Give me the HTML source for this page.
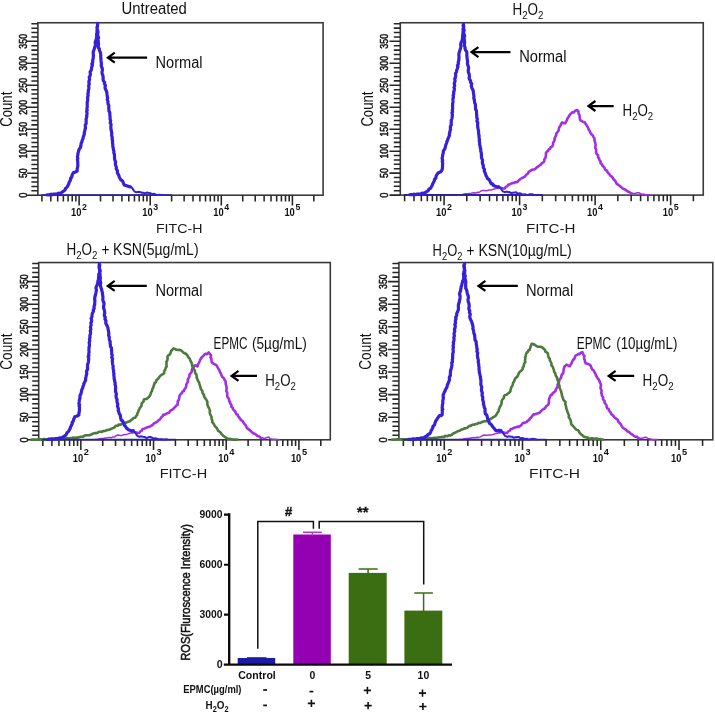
<!DOCTYPE html>
<html><head><meta charset="utf-8"><title>ROS flow cytometry</title>
<style>html,body{margin:0;padding:0;background:#fff;}body{width:715px;height:713px;overflow:hidden;font-family:"Liberation Sans",sans-serif;}svg{display:block;filter:blur(0.3px);}</style></head>
<body>
<svg width="715" height="713" viewBox="0 0 715 713" font-family="'Liberation Sans', sans-serif" fill="#111">
<rect width="715" height="713" fill="#fff"/>
<g id="panel1">
<rect x="37.90" y="22.75" width="285.20" height="172.45" fill="none" stroke="#3a3a3a" stroke-width="1.6"/>
<path d="M27.1,195.20H37.9M31.4,190.80H37.9M31.4,186.41H37.9M31.4,182.01H37.9M31.4,177.62H37.9M27.1,173.22H37.9M31.4,168.82H37.9M31.4,164.43H37.9M31.4,160.03H37.9M31.4,155.63H37.9M27.1,151.24H37.9M31.4,146.84H37.9M31.4,142.45H37.9M31.4,138.05H37.9M31.4,133.65H37.9M27.1,129.26H37.9M31.4,124.86H37.9M31.4,120.47H37.9M31.4,116.07H37.9M31.4,111.67H37.9M27.1,107.28H37.9M31.4,102.88H37.9M31.4,98.48H37.9M31.4,94.09H37.9M31.4,89.69H37.9M27.1,85.30H37.9M31.4,80.90H37.9M31.4,76.50H37.9M31.4,72.11H37.9M31.4,67.71H37.9M27.1,63.32H37.9M31.4,58.92H37.9M31.4,54.52H37.9M31.4,50.13H37.9M31.4,45.73H37.9M27.1,41.33H37.9M31.4,36.94H37.9M31.4,32.54H37.9M31.4,28.15H37.9M31.4,23.75H37.9" stroke="#262626" stroke-width="1.55" fill="none"/>
<text transform="translate(27.1,195.2) rotate(-90)" font-size="11" text-anchor="middle" textLength="5.2" lengthAdjust="spacingAndGlyphs" fill="#111" stroke="#111" stroke-width="0.5">0</text>
<text transform="translate(27.1,173.2) rotate(-90)" font-size="11" text-anchor="middle" textLength="9.8" lengthAdjust="spacingAndGlyphs" fill="#111" stroke="#111" stroke-width="0.5">50</text>
<text transform="translate(27.1,151.2) rotate(-90)" font-size="11" text-anchor="middle" textLength="14.8" lengthAdjust="spacingAndGlyphs" fill="#111" stroke="#111" stroke-width="0.5">100</text>
<text transform="translate(27.1,129.3) rotate(-90)" font-size="11" text-anchor="middle" textLength="14.8" lengthAdjust="spacingAndGlyphs" fill="#111" stroke="#111" stroke-width="0.5">150</text>
<text transform="translate(27.1,107.3) rotate(-90)" font-size="11" text-anchor="middle" textLength="14.8" lengthAdjust="spacingAndGlyphs" fill="#111" stroke="#111" stroke-width="0.5">200</text>
<text transform="translate(27.1,85.3) rotate(-90)" font-size="11" text-anchor="middle" textLength="14.8" lengthAdjust="spacingAndGlyphs" fill="#111" stroke="#111" stroke-width="0.5">250</text>
<text transform="translate(27.1,63.3) rotate(-90)" font-size="11" text-anchor="middle" textLength="14.8" lengthAdjust="spacingAndGlyphs" fill="#111" stroke="#111" stroke-width="0.5">300</text>
<text transform="translate(27.1,41.3) rotate(-90)" font-size="11" text-anchor="middle" textLength="14.8" lengthAdjust="spacingAndGlyphs" fill="#111" stroke="#111" stroke-width="0.5">350</text>
<text transform="translate(11.9,109.2) rotate(-90)" font-size="16.2" text-anchor="middle" textLength="35" lengthAdjust="spacingAndGlyphs">Count</text>
<path d="M41.93,195.2v6.2M50.82,195.2v6.2M57.71,195.2v6.2M63.34,195.2v6.2M68.10,195.2v6.2M72.22,195.2v6.2M75.86,195.2v6.2M79.11,195.2v10.2M100.51,195.2v6.2M113.03,195.2v6.2M121.92,195.2v6.2M128.81,195.2v6.2M134.44,195.2v6.2M139.20,195.2v6.2M143.32,195.2v6.2M146.96,195.2v6.2M150.21,195.2v10.2M171.62,195.2v6.2M184.14,195.2v6.2M193.02,195.2v6.2M199.91,195.2v6.2M205.54,195.2v6.2M210.30,195.2v6.2M214.42,195.2v6.2M218.06,195.2v6.2M221.31,195.2v10.2M242.72,195.2v6.2M255.24,195.2v6.2M264.12,195.2v6.2M271.01,195.2v6.2M276.64,195.2v6.2M281.40,195.2v6.2M285.52,195.2v6.2M289.16,195.2v6.2M292.41,195.2v10.2M313.82,195.2v6.2" stroke="#262626" stroke-width="1.55" fill="none"/>
<text x="71.1" y="216.3" font-size="10.6" font-weight="bold" fill="#111" textLength="10.4" lengthAdjust="spacingAndGlyphs">10</text>
<text x="82.1" y="210.1" font-size="8.8" font-weight="bold" fill="#111">2</text>
<text x="142.2" y="216.3" font-size="10.6" font-weight="bold" fill="#111" textLength="10.4" lengthAdjust="spacingAndGlyphs">10</text>
<text x="153.2" y="210.1" font-size="8.8" font-weight="bold" fill="#111">3</text>
<text x="213.3" y="216.3" font-size="10.6" font-weight="bold" fill="#111" textLength="10.4" lengthAdjust="spacingAndGlyphs">10</text>
<text x="224.3" y="210.1" font-size="8.8" font-weight="bold" fill="#111">4</text>
<text x="284.4" y="216.3" font-size="10.6" font-weight="bold" fill="#111" textLength="10.4" lengthAdjust="spacingAndGlyphs">10</text>
<text x="295.4" y="210.1" font-size="8.8" font-weight="bold" fill="#111">5</text>
<path d="M41.3,195.05H171.9" stroke="#2a2496" stroke-width="1.7" fill="none"/>
<polyline points="130.4,186.6 132.1,187.9 133.2,189.6 134.1,191.1 134.4,191.4 136.3,192.3 138.3,191.8 139.8,191.9 141.8,192.7 143.2,192.8 145.0,193.4 147.1,192.5 149.2,193.1 150.7,193.3 151.8,194.3 153.8,193.8 156.4,194.7 157.6,195.0 159.6,194.8 160.9,195.0 163.0,195.0" fill="none" stroke="#3620da" stroke-width="2.0" stroke-linejoin="round" stroke-linecap="round"/>
<polyline points="46.9,194.8 48.0,194.8 49.4,194.8 51.0,194.2 52.0,194.8 53.7,194.1 55.9,194.2 57.3,193.8 58.6,193.2 60.0,193.5 61.6,192.6 63.4,191.2 64.8,190.2 65.7,188.3 67.1,187.1 67.8,185.8 68.6,184.3 69.0,182.8 69.7,181.5 70.7,179.3 70.6,178.1 71.8,177.0 72.0,175.5 72.6,174.1 73.3,172.8 74.6,172.4 75.9,171.7 77.2,171.1 77.2,168.5 77.6,167.4 77.9,165.2 77.7,163.2 77.8,161.7 77.4,159.5 77.9,158.6 77.4,156.8 77.9,154.6 77.9,153.5 78.6,151.3 79.0,149.6 79.8,148.3 80.6,147.2 80.9,145.6 81.2,143.2 82.0,141.5 82.2,140.3 83.1,138.4 83.1,137.5 83.6,136.1 84.4,134.0 84.2,132.7 84.7,131.2 84.9,129.8 85.5,128.1 85.3,126.8 85.3,124.9 86.2,123.6 86.1,121.6 86.2,120.5 86.1,119.0 86.7,117.1 86.8,116.0 86.9,114.4 87.1,113.3 86.6,111.2 87.2,110.5 86.9,108.5 87.3,106.8 87.2,105.3 87.2,103.9 87.2,102.2 87.7,100.3 87.7,99.3 87.6,97.2 88.2,95.5 87.8,94.0 88.4,92.1 88.2,90.6 88.8,89.1 88.9,87.1 88.6,85.9 89.3,84.0 88.8,82.1 89.2,80.5 89.6,79.4 89.2,77.2 90.1,75.8 90.4,73.7 90.1,71.9 91.3,70.1 91.5,68.5 91.8,66.8 92.5,64.9 91.8,63.9 92.8,62.3 92.6,60.6 93.2,58.3 93.3,57.1 93.4,55.2 93.2,53.3 93.3,51.4 93.9,50.2 94.3,48.6 94.6,47.7 95.1,46.2 95.5,44.2 95.1,42.7 95.7,40.6 96.5,39.1 96.5,37.8 96.8,35.6 96.6,34.3 97.0,32.6 97.0,30.4 97.2,29.2 96.9,27.5 97.6,25.8 97.6,23.4 97.5,25.9 97.1,27.0 97.4,29.0 97.7,30.6 98.1,31.9 97.6,33.7 97.7,35.3 98.6,37.7 97.9,39.1 98.2,40.6 98.3,42.6 98.6,44.0 98.3,45.7 98.3,47.6 99.4,48.9 99.3,50.1 100.1,51.9 100.6,53.3 100.8,55.2 100.7,56.7 100.9,58.7 101.0,60.4 101.2,61.6 101.4,63.7 101.2,65.2 101.7,67.3 102.3,68.5 102.4,70.4 102.0,71.7 102.1,73.6 102.8,75.3 103.1,76.7 103.2,78.2 103.1,79.7 103.4,80.8 104.6,82.2 104.4,83.7 105.4,85.4 105.0,87.5 105.4,89.1 106.2,90.6 106.7,91.9 106.9,93.0 107.1,95.0 107.3,96.2 107.6,98.5 107.2,99.5 108.0,101.5 107.9,102.5 108.2,104.5 108.9,105.8 108.7,107.5 108.9,109.2 108.9,110.9 109.8,112.5 109.8,114.0 110.0,116.2 110.1,117.6 110.1,119.4 110.7,120.7 110.2,122.9 111.1,124.3 110.9,126.2 110.8,127.5 111.0,129.4 111.3,130.8 111.8,133.1 111.6,134.6 111.9,136.4 112.3,137.6 112.1,139.0 112.6,141.0 112.5,142.7 112.8,144.7 112.8,146.5 113.2,147.8 113.4,149.7 113.9,151.1 113.8,152.9 114.4,154.2 114.5,156.3 114.5,157.2 114.6,159.3 115.2,161.1 115.7,162.0 115.3,163.5 115.6,165.4 116.4,167.1 116.2,168.6 116.7,169.7 117.5,170.9 117.4,173.0 118.1,174.1 119.0,175.8 119.2,177.0 120.2,178.7 120.9,179.9 122.4,180.9 122.9,181.8 123.5,183.5 124.3,184.9 125.8,185.4 127.5,186.0 128.9,186.6 130.2,186.8" fill="none" stroke="#3620da" stroke-width="3.2" stroke-linejoin="round" stroke-linecap="round"/>
</g>
<g id="panel2">
<rect x="400.30" y="22.75" width="302.95" height="172.35" fill="none" stroke="#3a3a3a" stroke-width="1.6"/>
<path d="M389.5,195.10H400.3M393.8,190.71H400.3M393.8,186.31H400.3M393.8,181.92H400.3M393.8,177.53H400.3M389.5,173.13H400.3M393.8,168.74H400.3M393.8,164.34H400.3M393.8,159.95H400.3M393.8,155.56H400.3M389.5,151.16H400.3M393.8,146.77H400.3M393.8,142.38H400.3M393.8,137.98H400.3M393.8,133.59H400.3M389.5,129.20H400.3M393.8,124.80H400.3M393.8,120.41H400.3M393.8,116.02H400.3M393.8,111.62H400.3M389.5,107.23H400.3M393.8,102.83H400.3M393.8,98.44H400.3M393.8,94.05H400.3M393.8,89.65H400.3M389.5,85.26H400.3M393.8,80.87H400.3M393.8,76.47H400.3M393.8,72.08H400.3M393.8,67.69H400.3M389.5,63.29H400.3M393.8,58.90H400.3M393.8,54.51H400.3M393.8,50.11H400.3M393.8,45.72H400.3M389.5,41.32H400.3M393.8,36.93H400.3M393.8,32.54H400.3M393.8,28.14H400.3M393.8,23.75H400.3" stroke="#262626" stroke-width="1.55" fill="none"/>
<text transform="translate(388.3,195.1) rotate(-90)" font-size="11" text-anchor="middle" textLength="5.2" lengthAdjust="spacingAndGlyphs" fill="#111" stroke="#111" stroke-width="0.5">0</text>
<text transform="translate(388.3,173.1) rotate(-90)" font-size="11" text-anchor="middle" textLength="9.8" lengthAdjust="spacingAndGlyphs" fill="#111" stroke="#111" stroke-width="0.5">50</text>
<text transform="translate(388.3,151.2) rotate(-90)" font-size="11" text-anchor="middle" textLength="14.8" lengthAdjust="spacingAndGlyphs" fill="#111" stroke="#111" stroke-width="0.5">100</text>
<text transform="translate(388.3,129.2) rotate(-90)" font-size="11" text-anchor="middle" textLength="14.8" lengthAdjust="spacingAndGlyphs" fill="#111" stroke="#111" stroke-width="0.5">150</text>
<text transform="translate(388.3,107.2) rotate(-90)" font-size="11" text-anchor="middle" textLength="14.8" lengthAdjust="spacingAndGlyphs" fill="#111" stroke="#111" stroke-width="0.5">200</text>
<text transform="translate(388.3,85.3) rotate(-90)" font-size="11" text-anchor="middle" textLength="14.8" lengthAdjust="spacingAndGlyphs" fill="#111" stroke="#111" stroke-width="0.5">250</text>
<text transform="translate(388.3,63.3) rotate(-90)" font-size="11" text-anchor="middle" textLength="14.8" lengthAdjust="spacingAndGlyphs" fill="#111" stroke="#111" stroke-width="0.5">300</text>
<text transform="translate(388.3,41.3) rotate(-90)" font-size="11" text-anchor="middle" textLength="14.8" lengthAdjust="spacingAndGlyphs" fill="#111" stroke="#111" stroke-width="0.5">350</text>
<text transform="translate(373.4,109.1) rotate(-90)" font-size="16.2" text-anchor="middle" textLength="35" lengthAdjust="spacingAndGlyphs">Count</text>
<path d="M404.59,195.1v6.2M414.02,195.1v6.2M421.34,195.1v6.2M427.32,195.1v6.2M432.38,195.1v6.2M436.76,195.1v6.2M440.62,195.1v6.2M444.08,195.1v10.2M466.81,195.1v6.2M480.11,195.1v6.2M489.55,195.1v6.2M496.87,195.1v6.2M502.85,195.1v6.2M507.90,195.1v6.2M512.28,195.1v6.2M516.15,195.1v6.2M519.60,195.1v10.2M542.34,195.1v6.2M555.64,195.1v6.2M565.07,195.1v6.2M572.39,195.1v6.2M578.37,195.1v6.2M583.43,195.1v6.2M587.81,195.1v6.2M591.67,195.1v6.2M595.13,195.1v10.2M617.86,195.1v6.2M631.16,195.1v6.2M640.60,195.1v6.2M647.92,195.1v6.2M653.90,195.1v6.2M658.95,195.1v6.2M663.33,195.1v6.2M667.20,195.1v6.2M670.65,195.1v10.2M693.39,195.1v6.2" stroke="#262626" stroke-width="1.55" fill="none"/>
<text x="436.1" y="216.2" font-size="10.6" font-weight="bold" fill="#111" textLength="10.4" lengthAdjust="spacingAndGlyphs">10</text>
<text x="447.1" y="210.0" font-size="8.8" font-weight="bold" fill="#111">2</text>
<text x="511.6" y="216.2" font-size="10.6" font-weight="bold" fill="#111" textLength="10.4" lengthAdjust="spacingAndGlyphs">10</text>
<text x="522.6" y="210.0" font-size="8.8" font-weight="bold" fill="#111">3</text>
<text x="587.1" y="216.2" font-size="10.6" font-weight="bold" fill="#111" textLength="10.4" lengthAdjust="spacingAndGlyphs">10</text>
<text x="598.1" y="210.0" font-size="8.8" font-weight="bold" fill="#111">4</text>
<text x="662.7" y="216.2" font-size="10.6" font-weight="bold" fill="#111" textLength="10.4" lengthAdjust="spacingAndGlyphs">10</text>
<text x="673.7" y="210.0" font-size="8.8" font-weight="bold" fill="#111">5</text>
<polyline points="458.9,194.9 460.4,194.9 462.0,194.6 463.6,194.1 466.0,193.8 467.6,193.7 469.3,193.4 470.8,193.4 472.3,192.9 473.9,192.8 475.8,193.0 477.4,192.3 479.0,192.5 480.5,191.3 482.3,190.4 484.0,190.6 485.8,190.8 487.6,190.6 488.6,190.1 490.6,190.0 491.6,189.9 493.4,189.3 495.1,188.7 496.1,188.6 497.3,188.1" fill="none" stroke="#a22fe6" stroke-width="1.5" stroke-linejoin="round" stroke-linecap="round"/>
<polyline points="631.2,193.2 632.5,193.2 633.7,193.6 634.9,193.5 637.3,192.8 638.9,192.7 639.8,193.3 641.3,194.1 643.6,194.4 644.9,194.4 646.6,194.9 648.2,194.9 649.6,194.9" fill="none" stroke="#a22fe6" stroke-width="1.6" stroke-linejoin="round" stroke-linecap="round"/>
<polyline points="497.5,187.9 498.9,187.7 500.7,187.8 502.2,188.2 503.2,188.5 504.8,188.5 505.8,186.9 507.2,186.4 508.2,184.7 509.9,184.3 511.2,183.5 513.0,182.9 514.2,182.9 515.3,182.1 517.3,182.1 518.6,180.5 520.4,179.0 522.0,178.0 523.2,177.5 524.8,176.7 525.5,175.7 526.7,174.4 528.1,173.5 528.5,172.1 529.8,171.1 531.5,170.1 533.3,169.5 534.3,169.5 535.6,168.6 536.5,167.6 538.3,166.4 540.2,165.0 541.1,164.2 542.1,162.9 543.5,162.3 544.3,160.9 544.3,159.3 545.3,158.1 545.9,155.8 545.9,154.6 546.0,152.8 547.1,151.4 547.9,151.0 548.9,149.3 550.1,148.8 550.7,147.2 552.1,146.5 553.0,144.9 553.0,143.0 553.6,142.0 554.8,139.7 554.6,138.3 555.2,137.1 556.2,135.2 556.3,133.8 557.3,132.3 558.5,130.8 558.7,129.1 559.5,126.9 560.3,126.1 560.9,124.5 562.1,122.4 563.5,123.2 565.1,123.2 566.0,121.8 566.9,120.2 567.3,118.7 568.1,117.5 568.8,116.5 570.2,114.3 570.9,113.6 572.2,112.4 573.8,112.4 574.7,111.4 575.6,110.5 577.2,110.1 578.5,111.5 578.6,113.7 579.4,114.7 579.6,116.3 579.9,119.0 580.5,120.5 581.4,120.7 582.8,121.7 584.7,122.3 585.3,123.2 586.7,125.5 587.6,126.9 588.4,128.3 588.6,129.6 589.6,130.6 590.1,132.3 591.2,134.1 592.7,135.2 593.5,137.1 594.4,137.9 594.5,139.1 594.6,140.7 595.2,143.0 595.6,144.2 595.5,146.1 595.1,147.5 596.1,149.3 596.1,150.6 596.1,152.5 596.9,154.1 598.1,155.4 598.1,157.5 599.1,158.2 599.1,159.5 600.6,161.6 600.4,163.0 601.9,164.2 602.2,165.3 602.9,166.0 604.6,167.8 605.0,169.3 605.8,170.3 607.1,170.8 607.5,172.0 608.5,173.4 609.5,174.3 610.4,175.8 611.6,176.4 612.8,177.9 613.4,179.1 614.3,180.0 615.1,180.7 615.9,182.1 616.7,183.9 618.1,184.7 619.9,186.0 620.8,186.8 622.3,188.0 623.1,188.7 624.5,189.2 626.3,190.3 627.4,191.4 629.0,191.7 630.0,192.5 631.2,193.4" fill="none" stroke="#a22fe6" stroke-width="2.6" stroke-linejoin="round" stroke-linecap="round"/>
<path d="M403.9,194.95H542.7" stroke="#2a2496" stroke-width="1.7" fill="none"/>
<polyline points="498.5,186.5 500.3,187.8 501.5,189.5 502.5,191.0 502.8,191.3 504.8,192.2 506.2,191.7 507.2,191.8 508.7,192.2 509.5,192.1 511.1,193.1 512.9,192.7 514.6,192.5 516.2,192.3 517.7,193.8 519.7,193.3 522.3,194.2 523.5,194.5 525.1,194.3 526.1,194.7 527.9,194.9 529.9,194.3 531.1,194.3 532.7,194.3" fill="none" stroke="#3620da" stroke-width="2.0" stroke-linejoin="round" stroke-linecap="round"/>
<polyline points="409.9,194.7 411.0,194.7 412.6,194.7 414.2,194.1 415.3,194.7 417.1,194.0 419.4,194.1 420.8,193.7 422.2,193.1 423.8,193.4 425.5,192.5 427.4,191.1 428.4,190.6 428.9,189.1 430.4,188.6 431.1,187.3 432.0,185.8 432.6,184.1 433.3,182.8 434.4,180.6 434.5,179.3 435.8,178.2 436.0,176.7 436.4,175.5 437.1,174.2 438.1,173.0 439.4,172.3 440.8,171.7 441.9,170.3 442.2,169.2 442.5,167.0 442.5,164.8 442.7,163.4 442.2,161.2 442.7,160.3 442.1,158.4 442.6,156.1 442.6,155.1 443.3,152.8 443.3,151.2 444.1,149.8 444.9,148.8 445.3,147.2 445.8,144.7 446.6,143.1 446.8,141.8 447.7,140.0 447.8,139.0 448.6,137.5 449.4,135.5 449.3,134.1 449.7,132.7 449.9,131.2 450.5,129.6 450.4,128.3 450.4,126.4 451.3,125.0 451.2,123.0 451.3,122.0 451.2,120.5 452.0,118.5 452.1,117.4 452.3,115.8 452.4,114.7 451.9,112.6 452.6,112.0 452.3,110.0 452.7,108.3 452.6,106.8 452.6,105.5 452.6,103.7 453.1,101.8 453.0,100.9 452.9,98.8 453.5,97.1 453.1,95.6 453.8,93.7 453.6,92.2 454.2,90.7 454.4,88.8 454.0,87.5 454.7,85.7 454.2,83.7 454.7,82.1 455.1,81.0 454.7,78.8 455.4,77.5 455.7,75.5 455.5,73.6 456.4,71.9 456.7,70.2 457.4,68.5 458.0,66.6 457.4,65.6 458.4,64.0 458.2,62.2 458.9,59.9 458.9,58.8 459.0,56.8 458.9,55.0 459.0,53.1 459.5,51.6 460.0,49.9 460.3,49.1 460.6,47.9 461.0,45.9 460.6,44.4 461.2,42.3 462.1,40.8 462.3,39.4 462.7,37.2 462.5,36.0 462.9,34.3 463.0,32.1 463.3,30.9 463.0,29.2 463.7,27.5 463.6,25.1 463.5,24.2 463.1,25.3 463.4,27.3 463.7,28.9 464.2,30.2 463.6,32.0 463.8,33.6 464.7,36.0 464.0,37.4 464.3,38.9 464.4,40.9 464.7,42.3 464.4,44.0 464.4,45.9 465.1,47.4 465.0,48.7 465.8,50.5 466.7,51.7 466.9,53.5 466.8,55.0 467.0,57.0 467.1,58.7 467.4,59.9 467.6,62.0 467.4,63.5 467.9,65.5 468.5,66.8 468.6,68.8 468.2,70.1 468.3,72.0 469.0,73.7 469.3,75.0 469.4,76.5 469.1,78.1 469.5,79.2 470.6,80.7 470.5,82.2 471.7,83.8 471.3,85.9 471.7,87.5 472.5,89.0 473.1,90.3 473.3,91.4 473.5,93.4 473.7,94.6 474.0,96.9 473.7,97.9 474.4,99.9 474.4,100.9 474.7,102.9 475.4,104.2 475.4,105.8 475.5,107.5 475.5,109.2 476.5,110.8 476.5,112.3 476.6,114.5 476.8,115.9 476.8,117.7 477.4,118.9 476.9,121.1 477.8,122.6 477.6,124.5 477.6,125.7 477.8,127.7 478.1,129.0 478.6,131.4 478.5,132.8 478.8,134.7 479.1,135.8 479.0,137.3 479.4,139.3 479.3,141.0 479.6,143.0 479.7,144.8 480.1,146.1 480.3,148.0 480.8,149.4 480.7,151.1 481.2,152.5 481.4,154.6 481.4,155.5 481.5,157.6 482.2,159.4 482.6,160.4 482.3,161.9 482.5,163.8 483.4,165.5 483.2,167.0 483.5,168.1 484.4,169.3 484.3,171.4 485.0,172.5 485.7,174.3 485.9,175.4 487.0,177.1 487.5,178.7 489.1,179.7 489.7,180.6 490.4,182.2 491.1,183.6 492.8,184.1 493.7,185.6 495.3,186.2 496.5,186.5 498.7,186.8" fill="none" stroke="#3620da" stroke-width="3.2" stroke-linejoin="round" stroke-linecap="round"/>
</g>
<g id="panel3">
<rect x="38.70" y="262.55" width="291.60" height="177.25" fill="none" stroke="#3a3a3a" stroke-width="1.6"/>
<path d="M27.9,439.80H38.7M32.2,435.28H38.7M32.2,430.76H38.7M32.2,426.24H38.7M32.2,421.72H38.7M27.9,417.20H38.7M32.2,412.68H38.7M32.2,408.17H38.7M32.2,403.65H38.7M32.2,399.13H38.7M27.9,394.61H38.7M32.2,390.09H38.7M32.2,385.57H38.7M32.2,381.05H38.7M32.2,376.53H38.7M27.9,372.01H38.7M32.2,367.49H38.7M32.2,362.97H38.7M32.2,358.45H38.7M32.2,353.93H38.7M27.9,349.42H38.7M32.2,344.90H38.7M32.2,340.38H38.7M32.2,335.86H38.7M32.2,331.34H38.7M27.9,326.82H38.7M32.2,322.30H38.7M32.2,317.78H38.7M32.2,313.26H38.7M32.2,308.74H38.7M27.9,304.22H38.7M32.2,299.70H38.7M32.2,295.18H38.7M32.2,290.67H38.7M32.2,286.15H38.7M27.9,281.63H38.7M32.2,277.11H38.7M32.2,272.59H38.7M32.2,268.07H38.7M32.2,263.55H38.7" stroke="#262626" stroke-width="1.55" fill="none"/>
<text transform="translate(27.9,439.8) rotate(-90)" font-size="11" text-anchor="middle" textLength="5.2" lengthAdjust="spacingAndGlyphs" fill="#111" stroke="#111" stroke-width="0.5">0</text>
<text transform="translate(27.9,417.2) rotate(-90)" font-size="11" text-anchor="middle" textLength="9.8" lengthAdjust="spacingAndGlyphs" fill="#111" stroke="#111" stroke-width="0.5">50</text>
<text transform="translate(27.9,394.6) rotate(-90)" font-size="11" text-anchor="middle" textLength="14.8" lengthAdjust="spacingAndGlyphs" fill="#111" stroke="#111" stroke-width="0.5">100</text>
<text transform="translate(27.9,372.0) rotate(-90)" font-size="11" text-anchor="middle" textLength="14.8" lengthAdjust="spacingAndGlyphs" fill="#111" stroke="#111" stroke-width="0.5">150</text>
<text transform="translate(27.9,349.4) rotate(-90)" font-size="11" text-anchor="middle" textLength="14.8" lengthAdjust="spacingAndGlyphs" fill="#111" stroke="#111" stroke-width="0.5">200</text>
<text transform="translate(27.9,326.8) rotate(-90)" font-size="11" text-anchor="middle" textLength="14.8" lengthAdjust="spacingAndGlyphs" fill="#111" stroke="#111" stroke-width="0.5">250</text>
<text transform="translate(27.9,304.2) rotate(-90)" font-size="11" text-anchor="middle" textLength="14.8" lengthAdjust="spacingAndGlyphs" fill="#111" stroke="#111" stroke-width="0.5">300</text>
<text transform="translate(27.9,281.6) rotate(-90)" font-size="11" text-anchor="middle" textLength="14.8" lengthAdjust="spacingAndGlyphs" fill="#111" stroke="#111" stroke-width="0.5">350</text>
<text transform="translate(12.2,351.6) rotate(-90)" font-size="16.2" text-anchor="middle" textLength="36.3" lengthAdjust="spacingAndGlyphs">Count</text>
<path d="M42.83,439.8v6.2M51.91,439.8v6.2M58.95,439.8v6.2M64.71,439.8v6.2M69.58,439.8v6.2M73.79,439.8v6.2M77.51,439.8v6.2M80.84,439.8v10.2M102.72,439.8v6.2M115.52,439.8v6.2M124.60,439.8v6.2M131.65,439.8v6.2M137.40,439.8v6.2M142.27,439.8v6.2M146.49,439.8v6.2M150.21,439.8v6.2M153.53,439.8v10.2M175.42,439.8v6.2M188.22,439.8v6.2M197.30,439.8v6.2M204.34,439.8v6.2M210.10,439.8v6.2M214.97,439.8v6.2M219.18,439.8v6.2M222.90,439.8v6.2M226.23,439.8v10.2M248.11,439.8v6.2M260.91,439.8v6.2M270.00,439.8v6.2M277.04,439.8v6.2M282.80,439.8v6.2M287.66,439.8v6.2M291.88,439.8v6.2M295.60,439.8v6.2M298.92,439.8v10.2M320.81,439.8v6.2" stroke="#262626" stroke-width="1.55" fill="none"/>
<text x="72.8" y="461.8" font-size="11.2" font-weight="bold" fill="#111" textLength="10.4" lengthAdjust="spacingAndGlyphs">10</text>
<text x="83.8" y="455.1" font-size="9.2" font-weight="bold" fill="#111">2</text>
<text x="145.5" y="461.8" font-size="11.2" font-weight="bold" fill="#111" textLength="10.4" lengthAdjust="spacingAndGlyphs">10</text>
<text x="156.5" y="455.1" font-size="9.2" font-weight="bold" fill="#111">3</text>
<text x="218.2" y="461.8" font-size="11.2" font-weight="bold" fill="#111" textLength="10.4" lengthAdjust="spacingAndGlyphs">10</text>
<text x="229.2" y="455.1" font-size="9.2" font-weight="bold" fill="#111">4</text>
<text x="290.9" y="461.8" font-size="11.2" font-weight="bold" fill="#111" textLength="10.4" lengthAdjust="spacingAndGlyphs">10</text>
<text x="301.9" y="455.1" font-size="9.2" font-weight="bold" fill="#111">5</text>
<polyline points="95.1,439.6 96.5,439.6 98.0,439.3 99.6,438.8 101.9,438.5 103.5,438.3 105.1,438.0 106.5,438.1 108.0,437.6 109.6,437.4 111.4,437.7 112.9,436.9 114.4,437.1 115.9,435.9 117.6,435.0 119.2,435.2 121.0,435.4 122.7,435.2 123.7,434.7 125.6,434.5 126.6,434.4 128.3,433.9 129.9,433.2 130.9,433.1 132.1,432.6" fill="none" stroke="#a22fe6" stroke-width="1.5" stroke-linejoin="round" stroke-linecap="round"/>
<polyline points="261.0,437.8 262.9,437.9 264.6,438.4 266.3,437.7 268.6,437.0 269.5,438.1 270.3,438.7 272.9,439.3 274.4,439.2 275.6,439.2 277.3,439.6 278.8,439.6" fill="none" stroke="#a22fe6" stroke-width="1.6" stroke-linejoin="round" stroke-linecap="round"/>
<polyline points="132.3,432.4 133.6,432.2 135.4,432.3 136.8,432.7 137.8,433.0 139.2,433.0 140.3,431.4 141.6,430.9 142.5,429.1 144.2,428.7 146.1,427.8 148.4,427.0 150.1,426.6 151.2,425.7 152.7,425.0 153.9,423.4 155.9,422.5 157.4,421.6 158.0,420.6 159.6,419.7 160.3,418.8 161.4,417.2 162.7,416.2 163.1,414.8 164.8,414.7 166.5,413.7 168.2,412.8 169.2,412.8 169.9,411.3 170.8,410.3 173.2,409.1 174.4,407.7 175.3,406.8 176.3,405.5 177.6,404.9 177.7,403.0 177.7,401.4 178.7,400.1 179.3,397.8 179.3,396.6 179.8,395.2 180.9,393.7 181.7,393.3 182.6,391.5 183.8,391.0 184.4,389.3 185.4,388.2 186.2,386.7 186.2,384.7 186.8,383.6 188.0,381.3 187.7,379.9 188.4,378.4 189.4,376.6 189.4,375.0 190.4,373.5 191.6,372.0 191.8,370.3 192.5,368.1 193.4,367.1 194.9,365.4 196.0,365.6 197.4,366.5 198.0,364.3 198.9,362.9 199.7,361.2 200.1,359.8 201.0,358.5 201.6,357.5 203.3,355.8 204.0,355.0 205.2,353.8 207.0,354.2 207.8,353.2 208.7,352.3 209.8,353.9 211.1,355.3 210.5,357.5 211.2,358.2 211.4,359.5 211.6,361.9 212.2,363.0 213.0,363.3 214.4,364.3 216.2,364.9 216.8,365.9 218.1,368.2 219.0,369.6 219.8,371.1 220.0,372.4 220.9,373.5 221.4,375.2 222.4,377.0 223.9,378.2 224.7,380.2 225.5,381.0 225.6,382.2 225.7,383.9 226.3,386.2 226.6,387.4 226.6,389.4 226.2,390.9 227.2,392.7 227.2,394.0 227.2,396.0 227.9,397.7 229.1,398.9 229.1,401.2 230.1,401.8 230.1,403.2 231.5,405.3 231.3,406.8 232.8,408.1 233.0,409.2 233.7,409.9 235.4,411.8 235.8,413.2 236.5,414.3 237.7,414.8 238.1,416.0 239.1,417.5 240.0,418.4 240.9,420.0 242.1,420.6 243.2,422.1 243.9,423.4 244.7,424.2 245.5,425.0 246.2,426.4 247.0,428.2 248.4,429.1 250.1,430.4 250.9,431.3 252.4,432.5 253.2,433.2 254.5,433.7 256.3,434.8 257.3,435.9 258.9,436.3 259.8,437.1 261.0,438.0" fill="none" stroke="#a22fe6" stroke-width="2.6" stroke-linejoin="round" stroke-linecap="round"/>
<polyline points="31.3,439.6 32.9,439.6 35.0,439.6 36.1,439.6 37.4,439.6 39.5,439.6 40.6,439.3 42.2,439.6 44.4,439.0 46.3,439.6 47.5,439.5 48.6,438.8 50.6,438.9 51.9,439.0 53.3,439.2 55.4,439.5 57.0,439.3 58.6,439.3 60.2,438.9 62.4,439.4 63.8,439.0 64.9,438.4 66.5,438.1 68.7,438.3 70.4,438.1 72.1,438.4 72.8,437.6 75.3,437.8 77.0,437.5 77.8,437.6 80.0,436.9 80.8,436.7 83.1,436.8 83.8,435.9 85.3,435.4 87.4,435.2 88.7,435.2 89.8,435.1 91.3,434.5 92.8,433.8 94.4,433.1 96.7,433.1 97.6,432.7 99.0,431.7 101.1,431.8 101.8,431.9 103.4,431.0 105.4,430.9 106.5,430.1 107.9,430.0 109.7,429.5 111.4,428.7 113.5,427.9 114.6,427.3 115.7,425.7 117.8,425.8 118.5,424.6 120.3,424.7 121.4,424.3 123.8,423.4 125.0,422.5 126.3,422.7 128.2,421.7 129.9,421.2 131.5,419.8 132.3,419.4 133.4,418.0 135.2,417.8 136.0,416.1 137.2,415.0 137.1,413.9 138.2,412.0 138.5,410.7 139.5,408.8 139.9,407.8 141.2,406.3 141.6,405.0 141.7,403.2 142.2,402.8 143.7,401.3 143.8,399.5 145.7,399.0 146.9,398.7 148.0,397.7 149.3,396.7 150.0,395.2 150.7,394.1 150.9,392.5 152.1,391.0 152.2,389.3 153.3,387.4 153.7,385.5 154.3,384.5 154.4,383.2 155.9,382.2 156.3,380.4 157.3,379.5 158.1,378.8 158.8,377.6 159.8,376.4 161.4,374.9 162.9,374.1 164.0,373.4 164.4,370.8 165.2,369.8 165.8,367.6 166.7,366.5 166.4,365.2 166.5,363.4 166.5,361.6 167.3,360.5 167.6,358.4 167.5,356.8 168.0,355.6 169.7,354.5 170.5,353.2 171.2,351.0 172.4,349.7 173.3,348.5 175.1,349.0 176.2,349.8 178.3,349.9 178.7,349.9 180.9,350.3 182.2,351.2 183.2,352.6 184.3,353.0 186.1,354.0 187.6,355.6 188.0,356.8 189.7,358.6 190.3,360.3 191.1,362.1 191.6,362.8 192.0,364.3 192.2,366.0 193.5,367.2 193.7,368.8 194.7,370.4 195.1,372.1 195.3,373.5 196.3,374.2 196.8,376.2 196.5,377.4 197.4,379.2 197.7,380.3 198.7,381.9 199.3,383.0 199.5,384.1 200.1,386.1 200.5,387.4 200.8,389.1 202.2,390.7 202.4,392.1 202.9,393.7 204.0,394.7 204.0,396.3 205.1,398.1 205.7,398.9 206.7,400.4 207.4,402.0 207.3,404.1 207.5,405.0 208.3,407.0 209.1,408.4 209.6,409.7 210.0,410.8 209.7,412.7 210.2,414.4 210.9,415.7 211.6,417.3 211.5,418.7 212.4,420.7 212.2,422.2 213.4,423.4 214.1,424.6 215.0,426.3 216.1,427.3 217.5,429.3 218.0,430.7 219.1,431.4 220.3,432.1 221.2,433.5 222.6,435.1 223.1,435.6 224.3,436.5 226.2,437.9 227.1,438.3 228.2,439.0 230.3,438.9 231.6,439.2 232.6,439.5 234.7,439.6 235.9,439.6 237.3,439.6" fill="none" stroke="#4b7a3c" stroke-width="2.6" stroke-linejoin="round" stroke-linecap="round"/>
<path d="M42.2,439.65H175.8" stroke="#2a2496" stroke-width="1.7" fill="none"/>
<polyline points="133.2,431.0 135.0,432.3 136.1,434.1 137.1,435.6 137.4,435.9 139.3,436.9 140.6,436.3 141.6,436.5 143.0,436.8 144.4,436.9 146.6,438.1 148.7,437.1 150.4,437.0 152.3,437.7 153.4,438.6 155.4,438.2 157.9,439.0 159.2,439.3 161.4,439.3 162.8,439.6 164.9,439.6 166.9,439.2" fill="none" stroke="#3620da" stroke-width="2.0" stroke-linejoin="round" stroke-linecap="round"/>
<polyline points="47.9,439.4 49.0,439.4 50.5,439.3 52.1,438.8 53.1,439.3 54.9,438.7 57.1,438.7 58.5,438.4 59.8,437.8 61.3,438.1 62.9,437.1 64.8,435.7 66.2,434.7 67.1,432.7 68.5,431.4 69.2,430.2 70.1,428.6 70.5,427.0 71.2,425.7 72.3,423.5 72.1,422.2 73.4,421.1 73.6,419.6 74.2,418.1 74.8,416.7 76.3,416.3 77.5,415.7 78.9,415.0 78.9,412.9 79.2,412.2 79.4,410.4 79.4,408.7 79.5,407.6 79.0,405.7 79.6,405.1 78.9,403.4 79.2,401.4 79.3,400.3 80.0,398.0 79.9,396.3 80.2,394.9 81.0,393.8 81.3,392.2 81.8,389.7 82.7,387.9 82.9,386.6 83.8,384.8 83.8,383.8 84.6,382.2 85.7,380.0 85.5,378.6 86.0,377.1 86.2,375.6 86.8,374.0 86.6,372.6 86.7,370.7 87.6,369.3 87.5,367.3 87.6,366.2 87.5,364.7 88.3,362.6 88.5,361.4 88.6,359.8 88.8,358.6 88.2,356.5 88.9,355.8 88.7,353.8 89.1,352.2 88.9,350.6 89.0,349.2 89.0,347.4 89.5,345.5 89.4,344.5 89.2,342.4 89.8,340.7 89.4,339.2 90.0,337.2 89.8,335.7 90.4,334.1 90.6,332.2 90.3,330.9 90.9,329.2 90.4,327.4 90.8,326.0 91.2,325.0 90.8,323.0 91.5,321.9 91.6,320.1 91.1,318.5 92.0,316.7 92.0,315.0 92.4,313.2 93.5,311.2 93.2,310.1 94.2,308.4 94.0,306.6 94.7,304.2 94.7,303.1 94.9,301.0 94.7,299.2 94.8,297.2 95.3,295.6 95.7,293.7 96.0,292.6 96.2,291.3 96.5,289.6 95.9,288.3 96.4,286.4 97.2,285.2 97.3,284.1 97.9,282.1 97.9,281.1 98.5,279.6 98.5,277.3 98.9,276.1 98.7,274.4 99.5,272.7 99.6,270.2 99.5,269.3 99.0,267.0 99.2,265.5 99.3,263.7 99.8,265.0 99.3,266.8 99.5,268.5 100.3,271.0 99.7,272.4 100.0,274.0 100.1,276.0 100.4,277.5 100.2,279.2 100.2,281.1 100.8,282.7 100.3,284.3 100.6,286.4 101.1,288.0 101.6,289.6 101.8,290.8 102.4,292.6 102.5,294.3 102.7,295.6 103.0,297.7 102.7,299.2 103.2,301.4 103.9,302.6 104.0,304.7 103.6,306.2 103.6,308.2 104.3,310.0 104.6,311.4 104.7,313.0 104.3,314.6 104.4,315.9 105.3,317.4 104.9,319.1 106.0,320.7 105.7,322.8 106.3,324.4 107.2,325.9 107.8,327.3 108.0,328.4 108.3,330.4 108.6,331.6 108.9,334.0 108.5,335.0 109.3,337.1 109.2,338.1 109.5,340.1 110.2,341.5 110.1,343.1 110.4,344.8 110.4,346.4 111.5,348.0 111.5,349.2 111.6,351.3 111.7,352.6 111.7,354.2 112.3,355.2 111.7,357.3 112.6,358.6 112.3,360.3 112.3,361.4 112.5,363.2 112.7,364.3 113.2,366.5 113.0,367.8 113.3,369.4 113.6,370.4 113.5,371.7 113.9,373.5 113.8,375.0 114.1,376.9 114.1,378.6 114.5,379.8 114.7,381.5 115.2,382.8 115.0,384.4 115.5,385.8 115.6,388.0 115.5,389.1 115.5,391.2 116.1,393.1 116.4,394.2 116.0,395.9 116.3,397.9 117.1,399.7 116.9,401.3 117.2,402.6 117.8,403.9 117.5,406.2 117.9,407.3 118.5,409.2 118.2,410.4 118.9,412.1 119.2,413.7 120.3,415.1 120.4,416.3 120.7,418.3 121.2,420.1 122.6,420.9 123.3,422.7 124.1,424.3 124.5,425.4 125.7,426.7 126.3,427.9 127.8,429.1 128.3,429.8 129.9,430.3 131.7,430.9 133.3,430.7" fill="none" stroke="#3620da" stroke-width="3.2" stroke-linejoin="round" stroke-linecap="round"/>
</g>
<g id="panel4">
<rect x="398.90" y="262.55" width="313.90" height="177.25" fill="none" stroke="#3a3a3a" stroke-width="1.6"/>
<path d="M388.1,439.80H398.9M392.4,435.28H398.9M392.4,430.76H398.9M392.4,426.24H398.9M392.4,421.72H398.9M388.1,417.20H398.9M392.4,412.68H398.9M392.4,408.17H398.9M392.4,403.65H398.9M392.4,399.13H398.9M388.1,394.61H398.9M392.4,390.09H398.9M392.4,385.57H398.9M392.4,381.05H398.9M392.4,376.53H398.9M388.1,372.01H398.9M392.4,367.49H398.9M392.4,362.97H398.9M392.4,358.45H398.9M392.4,353.93H398.9M388.1,349.42H398.9M392.4,344.90H398.9M392.4,340.38H398.9M392.4,335.86H398.9M392.4,331.34H398.9M388.1,326.82H398.9M392.4,322.30H398.9M392.4,317.78H398.9M392.4,313.26H398.9M392.4,308.74H398.9M388.1,304.22H398.9M392.4,299.70H398.9M392.4,295.18H398.9M392.4,290.67H398.9M392.4,286.15H398.9M388.1,281.63H398.9M392.4,277.11H398.9M392.4,272.59H398.9M392.4,268.07H398.9M392.4,263.55H398.9" stroke="#262626" stroke-width="1.55" fill="none"/>
<text transform="translate(386.9,439.8) rotate(-90)" font-size="11" text-anchor="middle" textLength="5.2" lengthAdjust="spacingAndGlyphs" fill="#111" stroke="#111" stroke-width="0.5">0</text>
<text transform="translate(386.9,417.2) rotate(-90)" font-size="11" text-anchor="middle" textLength="9.8" lengthAdjust="spacingAndGlyphs" fill="#111" stroke="#111" stroke-width="0.5">50</text>
<text transform="translate(386.9,394.6) rotate(-90)" font-size="11" text-anchor="middle" textLength="14.8" lengthAdjust="spacingAndGlyphs" fill="#111" stroke="#111" stroke-width="0.5">100</text>
<text transform="translate(386.9,372.0) rotate(-90)" font-size="11" text-anchor="middle" textLength="14.8" lengthAdjust="spacingAndGlyphs" fill="#111" stroke="#111" stroke-width="0.5">150</text>
<text transform="translate(386.9,349.4) rotate(-90)" font-size="11" text-anchor="middle" textLength="14.8" lengthAdjust="spacingAndGlyphs" fill="#111" stroke="#111" stroke-width="0.5">200</text>
<text transform="translate(386.9,326.8) rotate(-90)" font-size="11" text-anchor="middle" textLength="14.8" lengthAdjust="spacingAndGlyphs" fill="#111" stroke="#111" stroke-width="0.5">250</text>
<text transform="translate(386.9,304.2) rotate(-90)" font-size="11" text-anchor="middle" textLength="14.8" lengthAdjust="spacingAndGlyphs" fill="#111" stroke="#111" stroke-width="0.5">300</text>
<text transform="translate(386.9,281.6) rotate(-90)" font-size="11" text-anchor="middle" textLength="14.8" lengthAdjust="spacingAndGlyphs" fill="#111" stroke="#111" stroke-width="0.5">350</text>
<text transform="translate(370.5,351.6) rotate(-90)" font-size="16.2" text-anchor="middle" textLength="36.3" lengthAdjust="spacingAndGlyphs">Count</text>
<path d="M403.34,439.8v6.2M413.12,439.8v6.2M420.70,439.8v6.2M426.90,439.8v6.2M432.14,439.8v6.2M436.67,439.8v6.2M440.68,439.8v6.2M444.26,439.8v10.2M467.82,439.8v6.2M481.60,439.8v6.2M491.37,439.8v6.2M498.96,439.8v6.2M505.15,439.8v6.2M510.39,439.8v6.2M514.93,439.8v6.2M518.93,439.8v6.2M522.51,439.8v10.2M546.07,439.8v6.2M559.85,439.8v6.2M569.63,439.8v6.2M577.21,439.8v6.2M583.41,439.8v6.2M588.65,439.8v6.2M593.19,439.8v6.2M597.19,439.8v6.2M600.77,439.8v10.2M624.33,439.8v6.2M638.11,439.8v6.2M647.88,439.8v6.2M655.47,439.8v6.2M661.66,439.8v6.2M666.90,439.8v6.2M671.44,439.8v6.2M675.44,439.8v6.2M679.02,439.8v10.2M702.58,439.8v6.2" stroke="#262626" stroke-width="1.55" fill="none"/>
<text x="436.3" y="461.8" font-size="11.2" font-weight="bold" fill="#111" textLength="10.4" lengthAdjust="spacingAndGlyphs">10</text>
<text x="447.3" y="455.1" font-size="9.2" font-weight="bold" fill="#111">2</text>
<text x="514.5" y="461.8" font-size="11.2" font-weight="bold" fill="#111" textLength="10.4" lengthAdjust="spacingAndGlyphs">10</text>
<text x="525.5" y="455.1" font-size="9.2" font-weight="bold" fill="#111">3</text>
<text x="592.8" y="461.8" font-size="11.2" font-weight="bold" fill="#111" textLength="10.4" lengthAdjust="spacingAndGlyphs">10</text>
<text x="603.8" y="455.1" font-size="9.2" font-weight="bold" fill="#111">4</text>
<text x="671.0" y="461.8" font-size="11.2" font-weight="bold" fill="#111" textLength="10.4" lengthAdjust="spacingAndGlyphs">10</text>
<text x="682.0" y="455.1" font-size="9.2" font-weight="bold" fill="#111">5</text>
<polyline points="459.6,439.6 461.1,439.6 462.8,439.3 464.5,438.8 466.5,438.6 467.7,438.5 469.0,438.3 470.3,438.2 471.9,437.7 473.5,437.6 475.4,437.8 477.1,437.2 478.7,437.4 480.3,436.9 482.2,435.9 483.8,435.0 485.7,435.2 487.8,435.3 488.9,434.9 490.9,435.0 492.0,434.8 493.8,434.3 495.5,433.6 496.8,433.5 498.0,433.0 499.4,432.5" fill="none" stroke="#a22fe6" stroke-width="1.5" stroke-linejoin="round" stroke-linecap="round"/>
<polyline points="638.2,437.8 639.5,437.9 640.7,438.3 642.0,438.2 644.5,437.4 646.2,437.3 647.0,437.9 648.6,438.7 649.8,438.8 650.7,439.1 652.5,439.6 654.2,439.6 655.6,439.6 657.1,439.5" fill="none" stroke="#a22fe6" stroke-width="1.6" stroke-linejoin="round" stroke-linecap="round"/>
<polyline points="499.6,432.4 501.1,432.2 503.0,432.3 504.5,432.7 505.6,433.0 507.1,433.0 508.3,431.4 509.7,430.9 510.7,429.1 512.5,428.7 513.8,427.9 515.6,427.3 516.9,427.2 517.4,426.6 518.9,426.9 520.0,426.2 521.4,425.1 522.3,423.8 522.8,423.0 525.1,422.6 526.5,422.1 527.7,420.7 529.2,420.0 529.7,418.8 531.0,417.7 532.3,415.8 533.6,414.3 534.5,414.5 535.8,413.9 537.4,413.4 539.8,412.6 540.9,411.2 541.8,410.3 543.5,409.0 544.9,408.3 545.7,406.9 546.5,405.8 548.2,404.9 548.9,402.6 548.9,401.4 549.0,399.6 549.6,397.6 549.9,396.7 551.0,395.0 552.2,394.5 552.8,392.9 554.3,392.2 555.5,391.0 555.9,389.3 556.6,388.2 557.8,386.0 557.6,384.5 558.2,383.2 559.2,381.4 559.2,380.1 560.1,378.9 561.2,377.6 561.3,376.2 562.0,374.3 562.8,373.7 563.4,372.1 563.6,370.1 563.9,368.6 564.5,366.4 565.5,365.7 566.5,364.7 567.9,365.4 569.7,366.2 570.4,365.1 571.8,362.8 572.2,361.5 573.1,359.7 574.4,359.1 574.8,357.1 575.6,355.7 577.0,354.9 578.6,353.9 579.2,354.1 581.0,352.8 582.4,352.2 583.3,354.6 584.5,355.8 584.1,357.0 584.2,358.8 584.8,360.2 584.9,361.1 585.6,363.3 587.2,363.7 588.7,364.3 589.6,364.6 590.7,365.7 591.2,367.5 592.4,369.5 593.9,370.8 594.8,372.9 595.6,373.8 595.8,375.1 596.6,376.5 597.9,378.7 599.0,379.7 599.7,381.4 600.0,382.7 600.9,384.4 600.9,385.8 600.5,387.7 600.9,389.4 601.7,390.6 601.2,392.8 601.7,393.7 601.8,395.3 603.2,397.7 603.0,399.4 604.5,400.9 604.5,402.2 604.9,403.1 606.4,405.2 606.7,406.9 607.2,408.3 608.6,408.9 608.9,410.2 609.8,411.7 610.8,412.7 611.5,414.4 612.6,415.1 613.9,416.6 614.8,417.8 615.9,418.5 617.0,419.1 617.9,420.3 618.5,422.0 619.5,422.9 620.9,424.3 621.3,425.5 622.4,427.0 623.2,428.0 624.7,428.9 626.5,430.3 627.6,431.5 629.3,432.1 630.3,433.1 631.5,434.2 632.8,434.9 634.1,436.1 635.7,436.8 637.3,436.9 638.2,438.3" fill="none" stroke="#a22fe6" stroke-width="2.6" stroke-linejoin="round" stroke-linecap="round"/>
<polyline points="392.2,439.6 393.6,439.6 395.7,439.6 396.8,439.3 398.4,439.3 400.7,439.2 402.1,439.2 403.5,439.4 405.7,439.6 406.5,439.2 408.3,439.6 410.6,439.6 412.3,439.6 414.1,439.6 415.0,439.6 416.9,439.5 418.6,439.2 420.1,439.1 421.6,438.7 423.8,439.2 425.6,439.0 426.8,438.9 428.0,438.7 429.9,438.1 431.3,438.3 433.0,438.1 435.0,437.9 436.2,437.9 437.9,437.5 439.4,437.3 440.7,437.3 443.1,436.7 444.4,436.9 445.2,435.8 447.5,436.2 448.8,435.2 450.1,435.6 451.8,434.8 452.4,434.1 453.8,433.2 454.8,432.8 456.6,431.9 457.6,431.3 459.4,430.7 460.5,430.2 461.9,429.4 463.1,429.3 464.4,428.4 465.7,428.4 467.5,427.6 468.2,426.8 469.7,425.7 470.7,425.9 472.4,424.7 474.3,424.6 475.7,424.0 477.3,423.9 478.3,422.9 480.1,423.0 481.8,422.1 483.7,421.5 484.7,421.3 487.3,421.1 488.3,420.2 490.5,419.0 491.9,418.2 493.0,417.3 494.3,416.6 495.6,415.8 496.3,414.8 497.4,412.8 498.3,411.7 498.6,410.8 499.1,408.9 499.8,407.0 500.9,405.3 501.5,403.8 501.6,402.3 501.9,400.3 502.9,399.0 504.0,397.8 504.0,396.1 505.0,395.1 506.6,394.7 508.2,393.3 509.0,392.9 510.4,391.3 510.5,390.0 510.9,388.9 511.2,387.3 512.2,386.1 512.7,384.6 513.2,382.7 514.0,381.5 514.9,379.3 515.3,378.3 517.1,376.9 517.7,376.0 518.6,373.8 519.2,372.4 520.7,371.1 521.5,370.5 522.6,369.1 522.7,367.6 523.7,366.5 523.8,365.2 524.2,363.5 525.4,362.1 524.9,360.9 525.3,358.5 525.1,357.2 525.7,356.3 525.8,354.7 526.7,352.7 527.9,351.9 528.5,350.3 529.6,349.9 530.3,347.7 530.7,346.5 531.2,345.1 531.6,343.9 533.2,344.0 535.0,345.0 536.7,346.1 537.7,346.7 538.8,346.8 540.7,346.8 542.4,347.5 543.7,348.8 545.0,349.9 545.4,351.7 547.4,352.8 548.1,354.6 548.3,356.0 548.6,357.5 549.9,358.9 549.8,360.1 550.8,362.0 551.6,363.7 551.3,365.3 552.7,366.6 553.1,367.8 553.6,369.2 554.0,370.2 554.1,372.0 555.0,372.7 555.6,374.6 556.0,376.1 556.9,377.1 557.3,378.6 557.5,380.0 558.3,381.4 558.8,382.8 559.0,384.8 559.5,385.7 559.4,387.2 560.2,389.2 561.1,391.1 561.2,392.2 561.9,394.2 561.9,395.4 562.5,396.9 563.2,398.9 563.7,400.3 564.4,400.9 565.6,402.2 565.3,403.7 565.6,405.4 566.1,406.6 566.3,408.6 566.7,409.6 567.5,411.7 568.0,412.9 568.4,414.5 569.0,415.3 568.7,417.2 569.7,418.5 570.4,419.6 570.8,421.3 571.0,422.6 571.4,424.4 572.9,425.9 573.9,427.0 574.9,428.2 576.2,429.6 578.1,430.3 579.0,431.5 579.5,432.6 580.7,433.9 582.2,435.2 583.2,436.2 584.3,436.7 585.6,437.2 587.9,437.6 588.8,438.5 591.2,438.4 592.3,438.3 593.4,438.8 595.2,438.6 597.4,438.6 598.4,439.5 600.3,439.0 601.8,439.6 603.2,439.6" fill="none" stroke="#4b7a3c" stroke-width="2.6" stroke-linejoin="round" stroke-linecap="round"/>
<path d="M402.7,439.65H546.4" stroke="#2a2496" stroke-width="1.7" fill="none"/>
<polyline points="500.7,431.0 502.6,432.3 503.8,434.1 504.8,435.6 505.2,435.9 507.2,436.9 508.6,436.3 509.6,436.5 511.2,436.8 512.0,436.7 513.7,437.7 515.6,437.3 517.4,437.1 518.9,437.0 520.5,438.4 522.2,437.9 524.4,438.7 525.1,439.0 526.8,438.8 527.8,439.2 529.7,439.4 531.3,438.9 532.6,438.8 534.2,438.9 536.2,439.5" fill="none" stroke="#3620da" stroke-width="2.0" stroke-linejoin="round" stroke-linecap="round"/>
<polyline points="408.8,439.4 410.0,439.4 411.6,439.3 413.3,438.8 414.5,439.3 416.4,438.7 418.7,438.7 420.2,438.4 421.6,437.8 423.2,438.1 424.4,437.4 425.8,436.3 427.1,436.2 427.6,434.7 429.1,434.1 429.9,433.5 430.6,432.3 431.0,430.9 431.7,429.8 432.8,427.8 432.9,426.5 434.3,425.2 434.8,423.7 435.2,422.4 435.6,421.2 436.4,420.1 437.3,418.6 438.3,417.1 439.4,415.7 440.9,415.7 442.2,414.7 442.2,412.9 442.4,411.8 442.1,410.0 442.8,409.4 442.1,407.8 442.4,405.7 442.4,404.9 442.9,402.8 442.7,401.3 443.0,399.9 443.3,398.8 443.2,397.2 443.2,394.7 444.0,393.3 444.2,392.3 445.2,390.7 445.2,390.0 446.0,388.8 447.1,386.6 447.3,385.1 448.1,383.5 448.6,381.9 449.5,380.1 449.3,378.8 449.4,376.9 450.4,375.5 450.3,373.5 450.5,372.5 450.4,371.0 451.2,368.9 451.5,367.7 451.8,366.0 452.0,364.8 451.7,362.6 452.5,361.8 452.3,359.9 452.7,358.2 452.6,356.7 452.7,355.5 452.7,353.8 453.3,351.9 453.2,351.0 453.0,348.9 453.5,347.3 453.0,345.9 453.6,343.9 453.3,342.5 453.9,340.9 454.1,339.0 453.8,337.7 454.4,335.8 454.0,333.8 454.4,332.2 454.8,331.1 454.4,329.1 455.1,327.9 455.3,326.1 454.8,324.5 455.5,323.0 455.3,321.7 455.5,320.1 456.1,318.4 455.6,317.3 456.7,315.5 456.7,313.7 457.8,311.2 458.3,310.0 458.5,308.0 458.3,306.1 458.5,304.1 459.1,302.6 459.5,300.6 459.8,299.5 460.0,297.9 460.1,295.9 459.5,294.3 459.9,292.2 460.6,291.0 460.6,289.9 461.1,287.9 461.1,286.9 461.7,285.4 462.0,283.4 462.5,282.5 462.6,281.0 463.6,279.6 463.7,277.1 463.7,276.2 463.4,273.9 463.8,272.4 464.1,270.7 464.4,268.5 463.8,266.8 463.9,265.0 464.7,264.0 464.0,265.4 464.4,267.0 464.5,269.1 464.9,270.6 464.6,272.3 464.7,274.2 465.3,275.8 464.9,277.3 465.2,279.4 465.7,281.0 465.8,282.9 465.6,284.4 465.7,286.5 465.7,288.2 466.3,289.3 466.9,291.1 467.1,292.3 467.6,294.5 468.2,295.7 468.4,297.8 468.0,299.3 468.1,301.3 468.8,303.1 469.1,304.6 469.2,306.3 468.8,308.0 468.9,309.3 469.8,310.9 469.4,312.6 470.3,314.3 469.7,316.5 470.0,318.1 470.7,319.7 471.4,321.1 471.8,322.1 472.3,324.1 472.7,325.3 473.1,327.6 472.8,328.6 473.6,330.7 473.7,331.7 474.0,333.7 474.7,335.1 474.7,336.7 474.9,338.3 475.0,340.0 476.1,341.5 476.2,342.9 476.4,345.1 476.7,346.4 476.8,348.2 477.3,349.2 476.8,351.3 477.7,352.6 477.5,354.3 477.4,355.4 477.6,357.1 477.9,358.3 478.4,360.5 478.2,361.8 478.5,363.4 478.8,364.4 478.7,365.7 479.1,367.5 479.0,369.0 479.3,370.9 479.3,372.6 479.8,373.7 480.0,375.4 480.5,376.7 480.4,378.4 480.9,379.6 480.9,381.6 480.9,382.5 480.8,384.4 481.4,386.4 481.8,387.4 481.4,389.1 481.6,391.2 482.4,393.1 482.0,394.7 482.2,396.0 482.9,397.4 482.6,399.7 483.1,400.9 483.6,402.8 483.4,404.2 484.1,405.9 484.2,407.5 485.1,408.9 485.0,410.2 485.1,412.3 485.4,414.0 486.7,414.8 487.2,416.6 487.6,418.4 487.9,419.9 489.0,421.6 489.3,423.1 490.9,424.2 491.5,424.9 492.4,426.3 493.6,427.8 494.4,428.6 495.4,430.2 496.8,430.8 498.9,430.4 501.1,430.6" fill="none" stroke="#3620da" stroke-width="3.2" stroke-linejoin="round" stroke-linecap="round"/>
</g>
<text x="179.2" y="232.9" font-size="13.3" text-anchor="middle" font-weight="normal" textLength="46.5" lengthAdjust="spacingAndGlyphs" fill="#1a1a1a">FITC-H</text>
<text x="550.7" y="232.9" font-size="13.6" text-anchor="middle" font-weight="normal" textLength="49.6" lengthAdjust="spacingAndGlyphs" fill="#1a1a1a">FITC-H</text>
<text x="183.4" y="478.4" font-size="13.7" text-anchor="middle" font-weight="normal" textLength="47.5" lengthAdjust="spacingAndGlyphs" fill="#1a1a1a">FITC-H</text>
<text x="554.5" y="478.4" font-size="13.7" text-anchor="middle" font-weight="normal" textLength="51.0" lengthAdjust="spacingAndGlyphs" fill="#1a1a1a">FITC-H</text>
<text x="121.5" y="13.8" font-size="15.8" text-anchor="start" font-weight="normal" textLength="65.4" lengthAdjust="spacingAndGlyphs">Untreated</text>
<text x="512.4" y="15.1" font-size="15.8" text-anchor="start" font-weight="normal" textLength="31.0" lengthAdjust="spacingAndGlyphs">H<tspan font-size="11.4" dy="4.1">2</tspan><tspan dy="-4.1">O</tspan><tspan font-size="11.4" dy="4.1">2</tspan><tspan dy="-4.1" font-size="1">&#8203;</tspan></text>
<text x="66.4" y="254.5" font-size="15.8" text-anchor="start" font-weight="normal" textLength="31.0" lengthAdjust="spacingAndGlyphs">H<tspan font-size="11.4" dy="4.1">2</tspan><tspan dy="-4.1">O</tspan><tspan font-size="11.4" dy="4.1">2</tspan><tspan dy="-4.1" font-size="1">&#8203;</tspan></text>
<text x="101.4" y="254.5" font-size="15.8" text-anchor="start" font-weight="normal" textLength="8.0" lengthAdjust="spacingAndGlyphs">+</text>
<text x="113.0" y="254.5" font-size="15.8" text-anchor="start" font-weight="normal" textLength="85.6" lengthAdjust="spacingAndGlyphs">KSN(5µg/mL)</text>
<text x="432.6" y="256.1" font-size="15.8" text-anchor="start" font-weight="normal" textLength="29.8" lengthAdjust="spacingAndGlyphs">H<tspan font-size="11.4" dy="4.1">2</tspan><tspan dy="-4.1">O</tspan><tspan font-size="11.4" dy="4.1">2</tspan><tspan dy="-4.1" font-size="1">&#8203;</tspan></text>
<text x="466.4" y="256.1" font-size="15.8" text-anchor="start" font-weight="normal" textLength="8.0" lengthAdjust="spacingAndGlyphs">+</text>
<text x="478.4" y="256.1" font-size="15.8" text-anchor="start" font-weight="normal" textLength="93.4" lengthAdjust="spacingAndGlyphs">KSN(10µg/mL)</text>
<text x="155.5" y="68.0" font-size="15.8" text-anchor="start" font-weight="normal" textLength="47.0" lengthAdjust="spacingAndGlyphs">Normal</text>
<path d="M147.1,57.7 H108.5 M114.8,52.7 L107.9,57.7 L114.8,62.7" fill="none" stroke="#000" stroke-width="2.25" stroke-linejoin="miter" stroke-linecap="butt"/>
<text x="519.2" y="62.2" font-size="15.8" text-anchor="start" font-weight="normal" textLength="47.3" lengthAdjust="spacingAndGlyphs">Normal</text>
<path d="M510.5,52.1 H472.1 M478.4,47.1 L471.5,52.1 L478.4,57.1" fill="none" stroke="#000" stroke-width="2.25" stroke-linejoin="miter" stroke-linecap="butt"/>
<text x="155.4" y="296.0" font-size="15.8" text-anchor="start" font-weight="normal" textLength="47.0" lengthAdjust="spacingAndGlyphs">Normal</text>
<path d="M146.8,285.9 H108.4 M114.7,280.9 L107.8,285.9 L114.7,290.9" fill="none" stroke="#000" stroke-width="2.25" stroke-linejoin="miter" stroke-linecap="butt"/>
<text x="526.0" y="296.0" font-size="15.8" text-anchor="start" font-weight="normal" textLength="47.3" lengthAdjust="spacingAndGlyphs">Normal</text>
<path d="M517.8,285.9 H479.1 M485.4,280.9 L478.5,285.9 L485.4,290.9" fill="none" stroke="#000" stroke-width="2.25" stroke-linejoin="miter" stroke-linecap="butt"/>
<text x="622.5" y="116.3" font-size="15.8" text-anchor="start" font-weight="normal" textLength="30.7" lengthAdjust="spacingAndGlyphs">H<tspan font-size="11.4" dy="4.1">2</tspan><tspan dy="-4.1">O</tspan><tspan font-size="11.4" dy="4.1">2</tspan><tspan dy="-4.1" font-size="1">&#8203;</tspan></text>
<path d="M613.7,106.0 H589.1 M595.4,101.0 L588.5,106.0 L595.4,111.0" fill="none" stroke="#000" stroke-width="2.25" stroke-linejoin="miter" stroke-linecap="butt"/>
<text x="265.2" y="386.0" font-size="15.8" text-anchor="start" font-weight="normal" textLength="30.6" lengthAdjust="spacingAndGlyphs">H<tspan font-size="11.4" dy="4.1">2</tspan><tspan dy="-4.1">O</tspan><tspan font-size="11.4" dy="4.1">2</tspan><tspan dy="-4.1" font-size="1">&#8203;</tspan></text>
<path d="M257.0,375.9 H232.2 M238.5,370.9 L231.6,375.9 L238.5,380.9" fill="none" stroke="#000" stroke-width="2.25" stroke-linejoin="miter" stroke-linecap="butt"/>
<text x="642.5" y="385.7" font-size="15.8" text-anchor="start" font-weight="normal" textLength="31.1" lengthAdjust="spacingAndGlyphs">H<tspan font-size="11.4" dy="4.1">2</tspan><tspan dy="-4.1">O</tspan><tspan font-size="11.4" dy="4.1">2</tspan><tspan dy="-4.1" font-size="1">&#8203;</tspan></text>
<path d="M634.2,375.9 H609.3 M615.6,370.9 L608.7,375.9 L615.6,380.9" fill="none" stroke="#000" stroke-width="2.25" stroke-linejoin="miter" stroke-linecap="butt"/>
<text x="213.6" y="349.1" font-size="15.8" text-anchor="start" font-weight="normal" textLength="33.8" lengthAdjust="spacingAndGlyphs">EPMC</text>
<text x="251.9" y="349.1" font-size="15.8" text-anchor="start" font-weight="normal" textLength="54.9" lengthAdjust="spacingAndGlyphs">(5µg/mL)</text>
<text x="576.7" y="348.9" font-size="15.8" text-anchor="start" font-weight="normal" textLength="34.4" lengthAdjust="spacingAndGlyphs">EPMC</text>
<text x="616.2" y="348.9" font-size="15.8" text-anchor="start" font-weight="normal" textLength="61.2" lengthAdjust="spacingAndGlyphs">(10µg/mL)</text>
<g id="bars"><rect x="237.7" y="658.0" width="37.5" height="6.6" fill="#1d1aa6"/>
<rect x="293.3" y="534.5" width="37.5" height="130.1" fill="#9401b2"/>
<rect x="348.7" y="572.9" width="38.0" height="91.7" fill="#3b6d13"/>
<rect x="404.4" y="610.6" width="37.9" height="54.0" fill="#3b6d13"/>
<path d="M303,532.3H321.8M312.4,532.3V535.5" stroke="#b53bd0" stroke-width="1.4" fill="none"/>
<path d="M247,657.6H266.4" stroke="#1d1aa6" stroke-width="0.9" fill="none"/>
<path d="M358.6,569.1H377.7M368.1,569.1V573.5" stroke="#3b6d13" stroke-width="1.5" fill="none"/>
<path d="M414.3,593.1H432.9M423.6,593.1V611" stroke="#3b6d13" stroke-width="1.5" fill="none"/>
<path d="M229.2,513.3V665.7M223.8,664.6H452" stroke="#0a0a0a" stroke-width="2.35" fill="none"/>
<path d="M224.0,514.6H229.2M224.0,564.8H229.2M224.0,614.6H229.2" stroke="#0a0a0a" stroke-width="2.1" fill="none"/>
<text x="222.4" y="518.2" font-size="10.8" text-anchor="end" font-weight="bold" textLength="23.0" lengthAdjust="spacingAndGlyphs">9000</text>
<text x="222.4" y="568.4" font-size="10.8" text-anchor="end" font-weight="bold" textLength="23.0" lengthAdjust="spacingAndGlyphs">6000</text>
<text x="222.4" y="618.2" font-size="10.8" text-anchor="end" font-weight="bold" textLength="23.0" lengthAdjust="spacingAndGlyphs">3000</text>
<text x="222.6" y="668.2" font-size="10.6" text-anchor="end" font-weight="bold">0</text>
<text transform="translate(190.1,592.4) rotate(-90)" font-size="12.4" text-anchor="middle" textLength="136.8" lengthAdjust="spacingAndGlyphs" stroke="#111" stroke-width="0.5">ROS(Fluroscence Intensity)</text>
<path d="M257.8,648.8V521.5H313.4V528.8M319.2,528.8V521.5H423.7V584.4" stroke="#111" stroke-width="1.5" fill="none" stroke-linejoin="miter"/>
<text x="288.5" y="515.8" font-size="13.0" text-anchor="middle" font-weight="bold" stroke="#111" stroke-width="0.35">#</text>
<text x="362.8" y="517.4" font-size="14.8" text-anchor="middle" font-weight="bold" stroke="#111" stroke-width="0.3">**</text>
<text x="257.0" y="678.5" font-size="10.4" text-anchor="middle" font-weight="bold" textLength="37.6" lengthAdjust="spacingAndGlyphs">Control</text>
<text x="312.5" y="678.6" font-size="10.4" text-anchor="middle" font-weight="bold">0</text>
<text x="368.1" y="678.6" font-size="10.4" text-anchor="middle" font-weight="bold">5</text>
<text x="423.4" y="678.6" font-size="10.4" text-anchor="middle" font-weight="bold">10</text>
<text x="183.3" y="692.8" font-size="11.7" text-anchor="start" font-weight="bold" textLength="58.2" lengthAdjust="spacingAndGlyphs">EPMC(µg/ml)</text>
<text x="205.6" y="708.9" font-size="11.8" text-anchor="start" font-weight="bold" textLength="23.0" lengthAdjust="spacingAndGlyphs">H<tspan font-size="8.8" dy="3.0">2</tspan><tspan dy="-3.0">O</tspan><tspan font-size="8.8" dy="3.0">2</tspan><tspan dy="-3.0" font-size="1">&#8203;</tspan></text>
<path d="M263.2,690.0h3.8" stroke="#111" stroke-width="1.7" fill="none"/>
<path d="M309.5,691.6h3.8" stroke="#111" stroke-width="1.7" fill="none"/>
<path d="M363.8,690.4h7.2M367.4,686.8v7.2" stroke="#111" stroke-width="1.6" fill="none"/>
<path d="M418.9,693.1h7.2M422.5,689.5v7.2" stroke="#111" stroke-width="1.6" fill="none"/>
<path d="M263.2,705.4h3.8" stroke="#111" stroke-width="1.7" fill="none"/>
<path d="M307.8,703.4h7.2M311.4,699.8v7.2" stroke="#111" stroke-width="1.6" fill="none"/>
<path d="M364.5,705.6h7.2M368.1,702.0v7.2" stroke="#111" stroke-width="1.6" fill="none"/>
<path d="M419.3,706.5h7.2M422.9,702.9v7.2" stroke="#111" stroke-width="1.6" fill="none"/></g>
</svg>
</body></html>
